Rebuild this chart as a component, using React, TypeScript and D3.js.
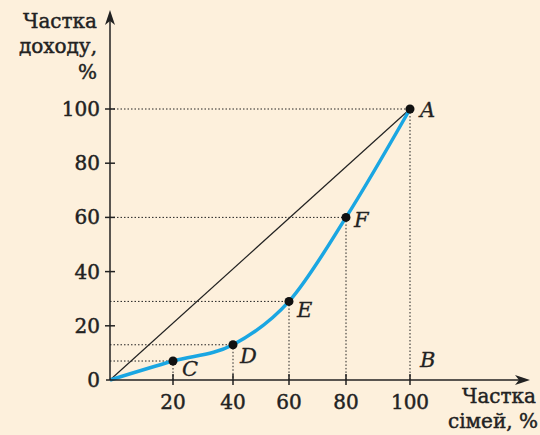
import React from "react";
import * as d3 from "d3";

const shares = [0, 20, 40, 60, 80, 100];
const incomes = [0, 7, 13, 29, 60, 100];
const pointLabels = ["", "C", "D", "E", "F", "A"];
const xTicks = [20, 40, 60, 80, 100];
const yTicks = [0, 20, 40, 60, 80, 100];

const W = 540, H = 435;
const FONT = "'DejaVu Serif', serif";

export default function App() {
  const x = d3.scaleLinear().domain([0, 20, 40, 60, 80, 100]).range([110, 173, 233, 289, 346, 410]);
  const y = d3.scaleLinear().domain([0, 100]).range([380, 109]);
  const pts: [number, number][] = shares.map((s, i) => [x(s), y(incomes[i])]);
  const curve = d3.line().curve(d3.curveMonotoneX)(pts) || "";
  const labelOffsets: Record<string, [number, number]> = {
    C: [9, 15], D: [7, 18], E: [8, 16], F: [8, 10], A: [10, 8],
  };
  const txt = { fontFamily: FONT, fill: "#222", stroke: "#222", strokeWidth: 0.45 };
  return (
    <svg width={W} height={H} style={{ position: "absolute", left: 0, top: 0, background: "#fdf0dc" }}>
      <rect width={W} height={H} fill="#fdf0dc" />
      {shares.slice(1).map((s, i) => (
        <g key={"g" + s} stroke="#222" strokeWidth={1} strokeDasharray="1.5,2" fill="none">
          <line x1={x(0)} x2={x(s)} y1={y(incomes[i + 1])} y2={y(incomes[i + 1])} />
          <line x1={x(s)} x2={x(s)} y1={y(incomes[i + 1])} y2={y(0)} />
        </g>
      ))}
      <line x1={x(0)} y1={y(0)} x2={x(100)} y2={y(100)} stroke="#222" strokeWidth={1.2} />
      <path d={curve} fill="none" stroke="#1aa6e2" strokeWidth={3.5} />
      <line x1={x(0)} y1={y(0)} x2={x(0)} y2={18} stroke="#222" strokeWidth={1.5} />
      <path d={`M${x(0)},10 L${x(0) - 5},25 L${x(0)},21 L${x(0) + 5},25 Z`} fill="#222" />
      <line x1={x(0) - 4} y1={y(0)} x2={522} y2={y(0)} stroke="#222" strokeWidth={1.5} />
      <path d={`M530,${y(0)} L515,${y(0) - 5} L519,${y(0)} L515,${y(0) + 5} Z`} fill="#222" />
      {yTicks.map((t) => (
        <g key={"yt" + t}>
          {t > 0 && <line x1={x(0) - 5} x2={x(0) + 5} y1={y(t)} y2={y(t)} stroke="#222" strokeWidth={1.5} />}
          <text x={100} y={y(t) + 7} textAnchor="end" fontSize={20} {...txt}>{t}</text>
        </g>
      ))}
      {xTicks.map((t) => (
        <g key={"xt" + t}>
          <line x1={x(t)} x2={x(t)} y1={y(0) - 6} y2={y(0) + 5} stroke="#222" strokeWidth={1.5} />
          <text x={x(t)} y={409} textAnchor="middle" fontSize={20} {...txt}>{t}</text>
        </g>
      ))}
      {pts.slice(1).map((p, i) => {
        const lab = pointLabels[i + 1];
        const off = labelOffsets[lab];
        return (
          <g key={"p" + i}>
            <circle cx={p[0]} cy={p[1]} r={4.5} fill="#111" />
            <text x={p[0] + off[0]} y={p[1] + off[1]} fontStyle="italic" fontSize={21} {...txt} strokeWidth={0.3}>{lab}</text>
          </g>
        );
      })}
      <text x={420} y={367} fontStyle="italic" fontSize={21} {...txt} strokeWidth={0.3}>B</text>
      <g textAnchor="end" fontSize={20} {...txt}>
        <text x={97} y={28}>Частка</text>
        <text x={97} y={53}>доходу,</text>
        <text x={97} y={79}>%</text>
        <text x={536} y={403}>Частка</text>
        <text x={538} y={428}>сімей, %</text>
      </g>
    </svg>
  );
}
